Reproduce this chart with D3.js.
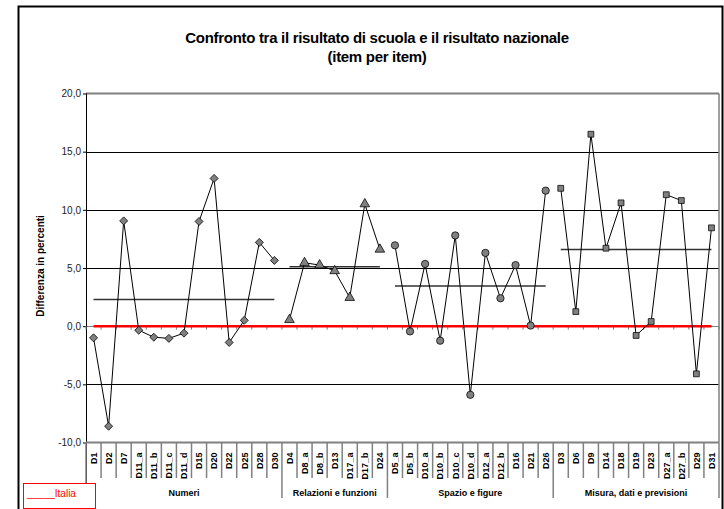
<!DOCTYPE html>
<html><head><meta charset="utf-8">
<script src="https://cdn.jsdelivr.net/npm/d3@7"></script>
<style>body{margin:0;background:#fff}svg{display:block;font-family:"Liberation Sans",Arial,sans-serif}</style>
</head><body><svg id="c" width="724" height="509"></svg>
<script>
const groups = ["Numeri", "Relazioni e funzioni", "Spazio e figure", "Misura, dati e previsioni"];
const catNumeri = ["D1","D2","D7","D11_a","D11_b","D11_c","D11_d","D15","D20","D22","D25","D28","D30"];
const catRelazioni = ["D4","D8_a","D8_b","D13","D17_a","D17_b","D24"];
const catSpazio = ["D5_a","D5_b","D10_a","D10_b","D10_c","D10_d","D12_a","D12_b","D16","D21","D26"];
const catMisura = ["D3","D6","D9","D14","D18","D19","D23","D27_a","D27_b","D29","D31"];
const valNumeri = [-1.0,-8.6,9.05,-0.35,-0.95,-1.05,-0.6,9.0,12.7,-1.4,0.5,7.2,5.65];
const valRelazioni = [0.55,5.45,5.25,4.75,2.45,10.5,6.6];
const valSpazio = [6.95,-0.45,5.35,-1.25,7.8,-5.9,6.3,2.4,5.25,0.05,11.65];
const valMisura = [11.85,1.25,16.5,6.7,10.6,-0.8,0.4,11.3,10.8,-4.1,8.45];
const groupMeans = [2.3,5.1,3.45,6.6];
const yTicks = [-10,-5,0,5,10,15,20];
const yTickLabels = ["-10,0","-5,0","0,0","5,0","10,0","15,0","20,0"];
const legendLabel = "_____Italia";
const yTitle = "Differenza in percenti";
const title1 = "Confronto tra il risultato di scuola e il risultato nazionale";
const title2 = "(item per item)";

const catGroups = [catNumeri, catRelazioni, catSpazio, catMisura];
const valGroups = [valNumeri, valRelazioni, valSpazio, valMisura];
const allCats = catGroups.flat();
const svg = d3.select("#c");
const L = 86, R = 719, T = 93.5, B = 442.5;
const x = d3.scaleBand().domain(allCats).range([L, R]).padding(0);
const y = d3.scaleLinear().domain([-10, 20]).range([B, T]);
const cx = c => x(c) + x.bandwidth() / 2;

// outer frame
svg.append("rect").attr("x",18.5).attr("y",6.5).attr("width",704).attr("height",510)
  .attr("fill","#fff").attr("stroke","#000").attr("stroke-width",2);

// title
svg.append("text").attr("x",377).attr("y",43).attr("text-anchor","middle")
  .attr("font-size",15).attr("font-weight","bold").attr("letter-spacing",-0.3).text(title1);
svg.append("text").attr("x",377).attr("y",62).attr("text-anchor","middle")
  .attr("font-size",15).attr("font-weight","bold").attr("letter-spacing",-0.3).text(title2);

// gridlines
yTicks.forEach(v => {
  if (v === 20 || v === -10) return;
  svg.append("line").attr("x1",L).attr("x2",R).attr("y1",Math.round(y(v))+0.5).attr("y2",Math.round(y(v))+0.5)
    .attr("stroke", v===0 ? "#808080" : "#000").attr("stroke-width",1);
});
// top & right border
svg.append("line").attr("x1",L).attr("x2",R).attr("y1",y(20)).attr("y2",y(20)).attr("stroke","#808080").attr("stroke-width",2);
svg.append("line").attr("x1",R).attr("x2",R).attr("y1",y(20)).attr("y2",y(-10)).attr("stroke","#808080").attr("stroke-width",1.5);

// y axis
const yAxis = d3.axisLeft(y).tickValues(yTicks).tickSize(3).tickFormat((d,i)=>yTickLabels[i]);
const ya = svg.append("g").attr("transform",`translate(${L},0)`).call(yAxis);
ya.select(".domain").remove();
ya.selectAll(".tick line").attr("stroke","#000");
ya.selectAll(".tick text").attr("font-size",10).attr("fill","#222").attr("font-family","Liberation Sans, Arial, sans-serif").attr("x",-5);
svg.append("line").attr("x1",L+0.5).attr("x2",L+0.5).attr("y1",T).attr("y2",498).attr("stroke","#000").attr("stroke-width",1);

// y title
svg.append("text").attr("transform",`translate(44,266) rotate(-90)`).attr("text-anchor","middle")
  .attr("font-size",10).attr("font-weight","bold").text(yTitle);

// x ticks at zero line
const zeroY = y(0);
d3.range(allCats.length+1).forEach(i => {
  const xx = L + i * x.bandwidth();
  svg.append("line").attr("x1",xx).attr("x2",xx).attr("y1",zeroY).attr("y2",zeroY+3.5).attr("stroke","#808080").attr("stroke-width",1);
});

// bottom axis line
svg.append("line").attr("x1",L).attr("x2",R).attr("y1",B).attr("y2",B).attr("stroke","#808080").attr("stroke-width",2);

// category separators and labels
catGroups.forEach((cats, gi) => {
  cats.forEach((c, j) => {
    const xx = x(c);
    svg.append("line").attr("x1",xx).attr("x2",xx).attr("y1",B).attr("y2", j===0 ? 498 : 478)
      .attr("stroke","#808080").attr("stroke-width",1.5);
    svg.append("text").attr("transform",`translate(${cx(c)+3.3},${B+10}) rotate(-90)`)
      .attr("text-anchor","end").attr("font-size",9).attr("font-weight","bold").attr("fill","#000").text(c);
  });
  const x0 = x(cats[0]), x1 = x(cats[cats.length-1]) + x.bandwidth();
  svg.append("text").attr("x",(x0+x1)/2).attr("y",496).attr("text-anchor","middle")
    .attr("font-size",9).attr("font-weight","bold").text(groups[gi]);
});
svg.append("line").attr("x1",R).attr("x2",R).attr("y1",B).attr("y2",498).attr("stroke","#808080").attr("stroke-width",1.5);

// red zero line
svg.append("line").attr("x1",cx(allCats[0])).attr("x2",cx(allCats[allCats.length-1]))
  .attr("y1",zeroY).attr("y2",zeroY).attr("stroke","#ff0000").attr("stroke-width",2.5);

// mean lines
catGroups.forEach((cats, gi) => {
  svg.append("line").attr("x1",cx(cats[0])).attr("x2",cx(cats[cats.length-1]))
    .attr("y1",y(groupMeans[gi])).attr("y2",y(groupMeans[gi])).attr("stroke","#333").attr("stroke-width",1.5);
});

// series lines & markers
const symbols = [
  d3.symbol().type(d3.symbolSquare).size(32),
  d3.symbol().type(d3.symbolTriangle).size(40),
  d3.symbol().type(d3.symbolCircle).size(42),
  d3.symbol().type(d3.symbolSquare).size(34)
];
const line = d3.line().x(d => cx(d[0])).y(d => y(d[1]));
catGroups.forEach((cats, gi) => {
  const pts = cats.map((c, j) => [c, valGroups[gi][j]]);
  svg.append("path").attr("d", line(pts)).attr("fill","none").attr("stroke","#000").attr("stroke-width",1);
  svg.append("g").selectAll("path").data(pts).join("path")
    .attr("d", symbols[gi]())
    .attr("transform", d => `translate(${cx(d[0])},${y(d[1])})` + (gi===0 ? " rotate(45)" : ""))
    .attr("fill","#808080").attr("stroke","#000").attr("stroke-width",0.75);
});

// legend
svg.append("rect").attr("x",23.5).attr("y",483.5).attr("width",72).attr("height",25)
  .attr("fill","#fff").attr("stroke","#ff0000").attr("stroke-width",1);
svg.append("text").attr("x",27).attr("y",497).attr("font-size",10).attr("fill","#ff0000").text(legendLabel);
</script></body></html>
